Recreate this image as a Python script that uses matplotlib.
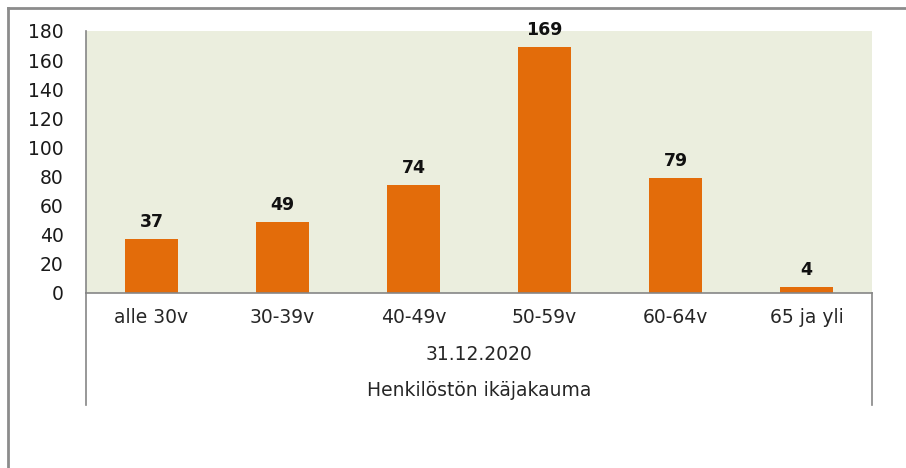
import matplotlib
matplotlib.use("Agg")
import matplotlib.pyplot as plt
from matplotlib.lines import Line2D

# data
categories = ["alle 30v", "30-39v", "40-49v", "50-59v", "60-64v", "65 ja yli"]
values = [37, 49, 74, 169, 79, 4]
group_label = "31.12.2020"
axis_title = "Henkilöstön ikäjakauma"
yticks = list(range(0, 181, 20))

plt.rcParams['font.family'] = ['DejaVu Sans']

W, H = 906, 468
fig = plt.figure(figsize=(W / 100, H / 100), dpi=100)

def fx(px):
    return px / W

def fy(py):
    return 1 - py / H

left, right, top, bottom = 86, 872, 31, 293
ax = fig.add_axes([fx(left), fy(bottom), fx(right - left), fy(top) - fy(bottom)])
ax.set_facecolor("#EBEEDE")

x = list(range(len(categories)))
ax.bar(x, values, width=0.4, color="#E36C0A", zorder=2)
for xi, v in zip(x, values):
    ax.text(xi, v + 5.5, str(v), ha="center", va="bottom", fontsize=12.5,
            fontweight="bold", color="#111111")

ax.set_xlim(-0.5, len(categories) - 0.5)
ax.set_ylim(0, 180)
ax.set_yticks(yticks)
ax.tick_params(axis="y", length=0, pad=16, labelsize=13.5, labelcolor="#1a1a1a")
ax.set_xticks(x)
ax.set_xticklabels(categories)
ax.tick_params(axis="x", length=0, pad=11, labelsize=13.5, labelcolor="#262626")

for s in ["top", "right"]:
    ax.spines[s].set_visible(False)
for s in ["left", "bottom"]:
    ax.spines[s].set_color("#868686")
    ax.spines[s].set_linewidth(1.2)

gray = "#868686"
# multi-level category axis lines
fig.add_artist(Line2D([fx(left), fx(left)], [fy(293), fy(405)], color=gray, lw=1.2))
fig.add_artist(Line2D([fx(right), fx(right)], [fy(293), fy(405)], color=gray, lw=1.2))
fig.text(fx((left + right) / 2), fy(355), group_label, ha="center", va="center",
         fontsize=13.5, color="#262626")
fig.text(fx((left + right) / 2), fy(391), axis_title, ha="center", va="center",
         fontsize=13.5, color="#262626")

# outer chart frame
fig.add_artist(Line2D([fx(8), fx(8)], [fy(8), 0], color="#8c8c8c", lw=2))
fig.add_artist(Line2D([fx(8), fx(906)], [fy(8), fy(8)], color="#8c8c8c", lw=2))

fig.savefig("out.png", dpi=100)
